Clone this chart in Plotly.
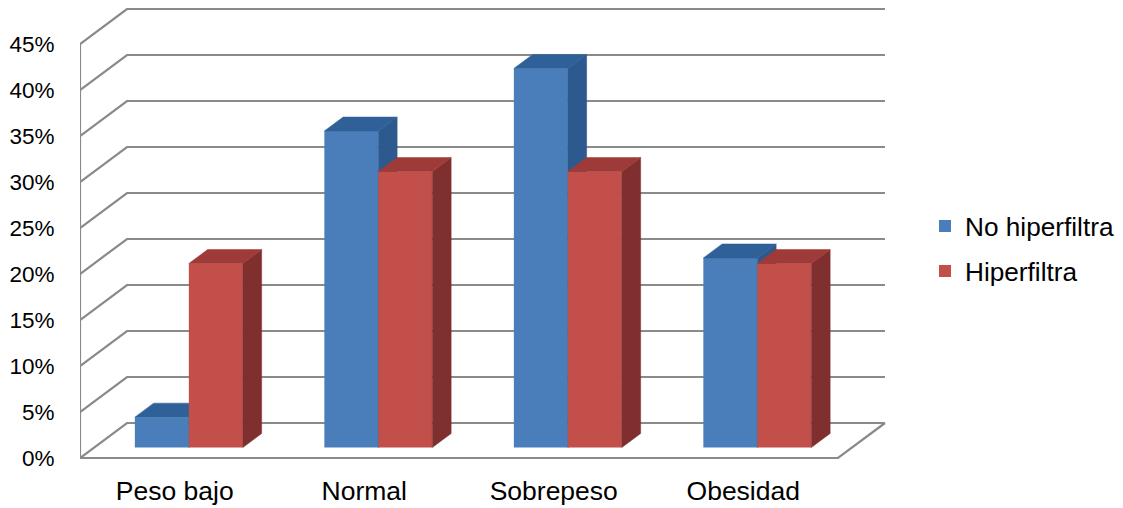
import plotly.graph_objects as go

categories = ["Peso bajo", "Normal", "Sobrepeso", "Obesidad"]
no_hiperfiltra = [3.3, 34.4, 41.2, 20.6]
hiperfiltra = [20.0, 30.0, 30.0, 20.0]
tick_values = [0, 5, 10, 15, 20, 25, 30, 35, 40, 45]
tick_labels = ["0%", "5%", "10%", "15%", "20%", "25%", "30%", "35%", "40%", "45%"]

PX_X = 189.5            # pixels per category
PX_Y = 9.2              # pixels per percentage point
DEPTH_X = 47 / PX_X     # full chart depth, in axis units
DEPTH_Y = 35 / PX_Y
X_MIN, X_MAX = -0.5, 3.5
BAR_W = 54 / PX_X
FRONT, BACK = 0.30, 0.70  # where bars sit inside the depth
GRID = "#8A8A8A"
FONT = "Liberation Sans, Arial, sans-serif"

XR = [X_MIN, X_MIN + 806 / PX_X]
YR = [-2 / PX_Y, 450 / PX_Y]
cats = list(range(len(categories)))

fig = go.Figure()

# walls and floor
gx, gy = [], []
for t in tick_values:
    gx += [X_MIN, X_MIN + DEPTH_X, X_MAX + DEPTH_X, None]
    gy += [t, t + DEPTH_Y, t + DEPTH_Y, None]
gx += [X_MIN, X_MIN, None, X_MIN, X_MAX, X_MAX + DEPTH_X]
gy += [0, tick_values[-1], None, 0, 0, DEPTH_Y]
fig.add_trace(go.Scatter(x=gx, y=gy, mode="lines", line=dict(color=GRID, width=2.2),
                         showlegend=False, hoverinfo="skip", xaxis="x", yaxis="y"))


def faces(values, left_shift):
    base = FRONT * DEPTH_Y
    dx = (BACK - FRONT) * DEPTH_X
    dy = (BACK - FRONT) * DEPTH_Y
    tx, ty, sx, sy = [], [], [], []
    for c, v in zip(cats, values):
        x0 = c + FRONT * DEPTH_X + left_shift
        x1 = x0 + BAR_W
        top = base + v
        tx += [x0, x1, x1 + dx, x0 + dx, x0, None]
        ty += [top, top, top + dy, top + dy, top, None]
        sx += [x1, x1 + dx, x1 + dx, x1, x1, None]
        sy += [base, base + dy, top + dy, top, base, None]
    return tx, ty, sx, sy


def add_series(name, values, left_shift, front, topc, sidec, xa, ya):
    base = FRONT * DEPTH_Y
    fig.add_trace(go.Bar(
        x=[c + FRONT * DEPTH_X for c in cats], y=values, base=[base] * len(values),
        width=BAR_W, offset=left_shift, name=name, legendgroup=name,
        marker=dict(color=front, line=dict(width=0)), xaxis=xa, yaxis=ya))
    tx, ty, sx, sy = faces(values, left_shift)
    for fx, fy, col in ((sx, sy, sidec), (tx, ty, topc)):
        fig.add_trace(go.Scatter(x=fx, y=fy, mode="lines", fill="toself", fillcolor=col,
                                 line=dict(color=col, width=0.5), showlegend=False,
                                 legendgroup=name, hoverinfo="skip", xaxis=xa, yaxis=ya))


add_series("No hiperfiltra", no_hiperfiltra, -BAR_W, "#4A7EBB", "#2F6098", "#2C5A8F", "x2", "y2")
add_series("Hiperfiltra", hiperfiltra, 0, "#C24F4A", "#9E3A38", "#7F302E", "x3", "y3")

hidden = dict(visible=False, fixedrange=True)
fig.update_layout(
    width=1123, height=508, margin=dict(l=72, r=245, t=0, b=56, autoexpand=False),
    paper_bgcolor="white", plot_bgcolor="white",
    barmode="overlay", showlegend=True,
    font=dict(family=FONT, color="#000000"),
    xaxis=dict(range=XR, tickmode="array", tickvals=cats, ticktext=categories,
               showgrid=False, zeroline=False, showline=False, automargin=False,
               ticks="outside", ticklen=7, tickcolor="rgba(0,0,0,0)",
               tickfont=dict(size=26.5, family=FONT)),
    yaxis=dict(range=YR, tickmode="array", tickvals=tick_values, ticktext=tick_labels,
               showgrid=False, zeroline=False, showline=False, automargin=False,
               ticks="outside", ticklen=20, tickcolor="rgba(0,0,0,0)",
               tickfont=dict(size=22.5, family=FONT)),
    xaxis2=dict(range=XR, overlaying="x", **hidden),
    yaxis2=dict(range=YR, overlaying="y", **hidden),
    xaxis3=dict(range=XR, overlaying="x", **hidden),
    yaxis3=dict(range=YR, overlaying="y", **hidden),
    legend=dict(x=(925 - 80) / 806, y=(460 - 249) / 452, xanchor="left", yanchor="middle",
                font=dict(size=26.2, family=FONT), tracegroupgap=8,
                bgcolor="rgba(0,0,0,0)", itemclick=False, itemdoubleclick=False),
)

fig.write_html("out.html")
